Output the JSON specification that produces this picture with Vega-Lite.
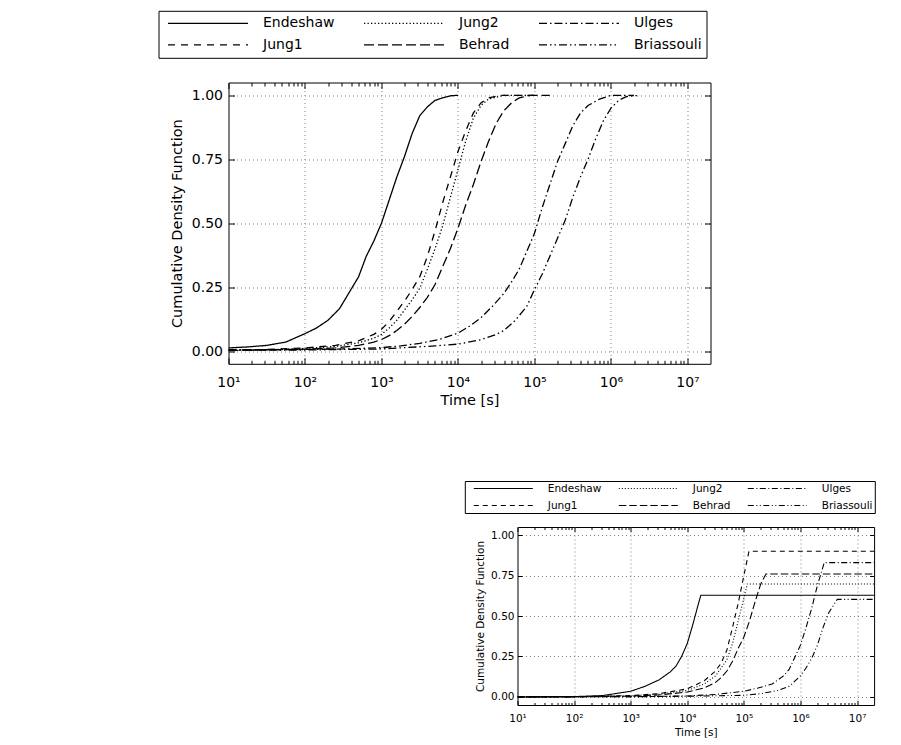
{
  "$schema": "https://vega.github.io/schema/vega-lite/v6.json",
  "background": "white",
  "padding": {"left": 157.5, "top": 9.5, "right": 5, "bottom": 5},
  "autosize": {"type": "pad"},
  "config": {
    "font": "DejaVu Sans",
    "view": {"stroke": "black", "strokeWidth": 1},
    "axis": {
      "labelColor": "black", "titleColor": "black", "tickColor": "black", "tickWidth": 1,
      "titleFontWeight": "normal", "domain": false, "labelFlush": false, "labelOverlap": false,
      "gridColor": "#808080", "gridDash": [1, 3], "gridWidth": 1, "gridOpacity": 1
    }
  },
  "datasets": {
    "top": [
      {"m":"Endeshaw","t":10,"v":0.012},{"m":"Endeshaw","t":17.78,"v":0.016},{"m":"Endeshaw","t":31.62,"v":0.022},{"m":"Endeshaw","t":56.23,"v":0.035},{"m":"Endeshaw","t":100,"v":0.068},{"m":"Endeshaw","t":141.3,"v":0.09},{"m":"Endeshaw","t":199.5,"v":0.12},{"m":"Endeshaw","t":281.8,"v":0.165},{"m":"Endeshaw","t":398.1,"v":0.24},{"m":"Endeshaw","t":501.2,"v":0.29},{"m":"Endeshaw","t":631,"v":0.37},{"m":"Endeshaw","t":794.3,"v":0.43},{"m":"Endeshaw","t":1000,"v":0.5},{"m":"Endeshaw","t":1259,"v":0.59},{"m":"Endeshaw","t":1585,"v":0.68},{"m":"Endeshaw","t":1995,"v":0.76},{"m":"Endeshaw","t":2512,"v":0.85},{"m":"Endeshaw","t":3162,"v":0.92},{"m":"Endeshaw","t":3981,"v":0.955},{"m":"Endeshaw","t":5012,"v":0.98},{"m":"Endeshaw","t":6310,"v":0.99},{"m":"Endeshaw","t":7943,"v":0.998},{"m":"Endeshaw","t":10000,"v":1.0},
      {"m":"Jung1","t":10,"v":0.004},{"m":"Jung1","t":31.62,"v":0.006},{"m":"Jung1","t":100,"v":0.012},{"m":"Jung1","t":251.2,"v":0.022},{"m":"Jung1","t":501.2,"v":0.04},{"m":"Jung1","t":794.3,"v":0.065},{"m":"Jung1","t":1000,"v":0.085},{"m":"Jung1","t":1259,"v":0.115},{"m":"Jung1","t":1585,"v":0.155},{"m":"Jung1","t":1995,"v":0.195},{"m":"Jung1","t":2512,"v":0.24},{"m":"Jung1","t":3162,"v":0.29},{"m":"Jung1","t":3981,"v":0.37},{"m":"Jung1","t":5012,"v":0.47},{"m":"Jung1","t":6310,"v":0.58},{"m":"Jung1","t":7943,"v":0.68},{"m":"Jung1","t":10000,"v":0.78},{"m":"Jung1","t":12589,"v":0.86},{"m":"Jung1","t":15849,"v":0.93},{"m":"Jung1","t":19953,"v":0.97},{"m":"Jung1","t":25119,"v":0.99},{"m":"Jung1","t":35481,"v":1.0},{"m":"Jung1","t":100000,"v":1.0},
      {"m":"Jung2","t":10,"v":0.003},{"m":"Jung2","t":31.62,"v":0.005},{"m":"Jung2","t":100,"v":0.01},{"m":"Jung2","t":251.2,"v":0.018},{"m":"Jung2","t":501.2,"v":0.032},{"m":"Jung2","t":794.3,"v":0.05},{"m":"Jung2","t":1000,"v":0.065},{"m":"Jung2","t":1259,"v":0.09},{"m":"Jung2","t":1585,"v":0.12},{"m":"Jung2","t":1995,"v":0.16},{"m":"Jung2","t":2512,"v":0.2},{"m":"Jung2","t":3162,"v":0.245},{"m":"Jung2","t":3981,"v":0.32},{"m":"Jung2","t":5012,"v":0.4},{"m":"Jung2","t":6310,"v":0.49},{"m":"Jung2","t":7943,"v":0.6},{"m":"Jung2","t":10000,"v":0.71},{"m":"Jung2","t":12589,"v":0.82},{"m":"Jung2","t":15849,"v":0.91},{"m":"Jung2","t":19953,"v":0.96},{"m":"Jung2","t":25119,"v":0.985},{"m":"Jung2","t":39811,"v":1.0},{"m":"Jung2","t":100000,"v":1.0},
      {"m":"Behrad","t":10,"v":0.002},{"m":"Behrad","t":31.62,"v":0.004},{"m":"Behrad","t":100,"v":0.007},{"m":"Behrad","t":251.2,"v":0.012},{"m":"Behrad","t":501.2,"v":0.022},{"m":"Behrad","t":794.3,"v":0.035},{"m":"Behrad","t":1000,"v":0.045},{"m":"Behrad","t":1259,"v":0.06},{"m":"Behrad","t":1585,"v":0.08},{"m":"Behrad","t":1995,"v":0.105},{"m":"Behrad","t":2512,"v":0.135},{"m":"Behrad","t":3162,"v":0.17},{"m":"Behrad","t":3981,"v":0.21},{"m":"Behrad","t":5012,"v":0.26},{"m":"Behrad","t":6310,"v":0.33},{"m":"Behrad","t":7943,"v":0.4},{"m":"Behrad","t":10000,"v":0.48},{"m":"Behrad","t":12589,"v":0.57},{"m":"Behrad","t":15849,"v":0.65},{"m":"Behrad","t":19953,"v":0.74},{"m":"Behrad","t":25119,"v":0.82},{"m":"Behrad","t":31623,"v":0.89},{"m":"Behrad","t":39811,"v":0.94},{"m":"Behrad","t":50119,"v":0.97},{"m":"Behrad","t":63096,"v":0.99},{"m":"Behrad","t":89125,"v":1.0},{"m":"Behrad","t":158489,"v":1.0},
      {"m":"Ulges","t":10,"v":0.004},{"m":"Ulges","t":100,"v":0.006},{"m":"Ulges","t":316.2,"v":0.008},{"m":"Ulges","t":1000,"v":0.013},{"m":"Ulges","t":1778,"v":0.02},{"m":"Ulges","t":3162,"v":0.03},{"m":"Ulges","t":5623,"v":0.045},{"m":"Ulges","t":10000,"v":0.07},{"m":"Ulges","t":14125,"v":0.097},{"m":"Ulges","t":19953,"v":0.13},{"m":"Ulges","t":28184,"v":0.175},{"m":"Ulges","t":39811,"v":0.225},{"m":"Ulges","t":50119,"v":0.27},{"m":"Ulges","t":63096,"v":0.32},{"m":"Ulges","t":79433,"v":0.39},{"m":"Ulges","t":100000,"v":0.46},{"m":"Ulges","t":125893,"v":0.56},{"m":"Ulges","t":158489,"v":0.65},{"m":"Ulges","t":199526,"v":0.74},{"m":"Ulges","t":251189,"v":0.81},{"m":"Ulges","t":316228,"v":0.88},{"m":"Ulges","t":398107,"v":0.93},{"m":"Ulges","t":501187,"v":0.96},{"m":"Ulges","t":707946,"v":0.985},{"m":"Ulges","t":1000000,"v":1.0},{"m":"Ulges","t":1995262,"v":1.0},
      {"m":"Briassouli","t":10,"v":0.003},{"m":"Briassouli","t":100,"v":0.004},{"m":"Briassouli","t":1000,"v":0.008},{"m":"Briassouli","t":1995,"v":0.013},{"m":"Briassouli","t":5012,"v":0.02},{"m":"Briassouli","t":10000,"v":0.027},{"m":"Briassouli","t":19953,"v":0.044},{"m":"Briassouli","t":31623,"v":0.065},{"m":"Briassouli","t":39811,"v":0.08},{"m":"Briassouli","t":56234,"v":0.12},{"m":"Briassouli","t":79433,"v":0.175},{"m":"Briassouli","t":100000,"v":0.24},{"m":"Briassouli","t":125893,"v":0.3},{"m":"Briassouli","t":158489,"v":0.37},{"m":"Briassouli","t":199526,"v":0.44},{"m":"Briassouli","t":251189,"v":0.51},{"m":"Briassouli","t":316228,"v":0.6},{"m":"Briassouli","t":398107,"v":0.68},{"m":"Briassouli","t":501187,"v":0.75},{"m":"Briassouli","t":630957,"v":0.83},{"m":"Briassouli","t":794328,"v":0.9},{"m":"Briassouli","t":1000000,"v":0.95},{"m":"Briassouli","t":1258925,"v":0.98},{"m":"Briassouli","t":1584893,"v":0.995},{"m":"Briassouli","t":2398833,"v":1.0}
    ],
    "bottom": [
      {"m":"Endeshaw","t":10,"v":0},{"m":"Endeshaw","t":100,"v":0.002},{"m":"Endeshaw","t":316.2,"v":0.008},{"m":"Endeshaw","t":1000,"v":0.035},{"m":"Endeshaw","t":1778,"v":0.065},{"m":"Endeshaw","t":3162,"v":0.105},{"m":"Endeshaw","t":5012,"v":0.155},{"m":"Endeshaw","t":6310,"v":0.19},{"m":"Endeshaw","t":7943,"v":0.25},{"m":"Endeshaw","t":10000,"v":0.33},{"m":"Endeshaw","t":12589,"v":0.45},{"m":"Endeshaw","t":15849,"v":0.58},{"m":"Endeshaw","t":17378,"v":0.628},{"m":"Endeshaw","t":20000000,"v":0.628},
      {"m":"Jung1","t":10,"v":0},{"m":"Jung1","t":100,"v":0.001},{"m":"Jung1","t":1000,"v":0.008},{"m":"Jung1","t":3162,"v":0.02},{"m":"Jung1","t":10000,"v":0.05},{"m":"Jung1","t":19953,"v":0.1},{"m":"Jung1","t":31623,"v":0.16},{"m":"Jung1","t":39811,"v":0.21},{"m":"Jung1","t":50119,"v":0.29},{"m":"Jung1","t":63096,"v":0.43},{"m":"Jung1","t":79433,"v":0.58},{"m":"Jung1","t":100000,"v":0.75},{"m":"Jung1","t":123027,"v":0.9},{"m":"Jung1","t":20000000,"v":0.9},
      {"m":"Jung2","t":10,"v":0},{"m":"Jung2","t":100,"v":0.001},{"m":"Jung2","t":1000,"v":0.007},{"m":"Jung2","t":3162,"v":0.017},{"m":"Jung2","t":10000,"v":0.04},{"m":"Jung2","t":19953,"v":0.08},{"m":"Jung2","t":31623,"v":0.13},{"m":"Jung2","t":39811,"v":0.18},{"m":"Jung2","t":50119,"v":0.23},{"m":"Jung2","t":63096,"v":0.33},{"m":"Jung2","t":79433,"v":0.47},{"m":"Jung2","t":100000,"v":0.61},{"m":"Jung2","t":114815,"v":0.698},{"m":"Jung2","t":20000000,"v":0.698},
      {"m":"Behrad","t":10,"v":0},{"m":"Behrad","t":100,"v":0.001},{"m":"Behrad","t":1000,"v":0.005},{"m":"Behrad","t":3162,"v":0.012},{"m":"Behrad","t":10000,"v":0.03},{"m":"Behrad","t":19953,"v":0.055},{"m":"Behrad","t":31623,"v":0.09},{"m":"Behrad","t":39811,"v":0.12},{"m":"Behrad","t":50119,"v":0.16},{"m":"Behrad","t":63096,"v":0.22},{"m":"Behrad","t":79433,"v":0.3},{"m":"Behrad","t":100000,"v":0.37},{"m":"Behrad","t":125893,"v":0.47},{"m":"Behrad","t":158489,"v":0.59},{"m":"Behrad","t":199526,"v":0.7},{"m":"Behrad","t":245471,"v":0.76},{"m":"Behrad","t":20000000,"v":0.76},
      {"m":"Ulges","t":10,"v":0},{"m":"Ulges","t":1000,"v":0.001},{"m":"Ulges","t":10000,"v":0.006},{"m":"Ulges","t":31623,"v":0.015},{"m":"Ulges","t":100000,"v":0.035},{"m":"Ulges","t":177828,"v":0.055},{"m":"Ulges","t":316228,"v":0.08},{"m":"Ulges","t":501187,"v":0.13},{"m":"Ulges","t":630957,"v":0.17},{"m":"Ulges","t":794328,"v":0.245},{"m":"Ulges","t":1000000,"v":0.32},{"m":"Ulges","t":1258925,"v":0.43},{"m":"Ulges","t":1584893,"v":0.55},{"m":"Ulges","t":1995262,"v":0.69},{"m":"Ulges","t":2630268,"v":0.83},{"m":"Ulges","t":20000000,"v":0.83},
      {"m":"Briassouli","t":10,"v":0},{"m":"Briassouli","t":1000,"v":0.001},{"m":"Briassouli","t":10000,"v":0.004},{"m":"Briassouli","t":100000,"v":0.01},{"m":"Briassouli","t":199526,"v":0.02},{"m":"Briassouli","t":398107,"v":0.04},{"m":"Briassouli","t":630957,"v":0.065},{"m":"Briassouli","t":1000000,"v":0.13},{"m":"Briassouli","t":1258925,"v":0.18},{"m":"Briassouli","t":1584893,"v":0.24},{"m":"Briassouli","t":1995262,"v":0.32},{"m":"Briassouli","t":2511886,"v":0.43},{"m":"Briassouli","t":3162278,"v":0.52},{"m":"Briassouli","t":4466836,"v":0.603},{"m":"Briassouli","t":20000000,"v":0.603}
    ]
  },
  "spacing": 162.5,
  "bounds": "flush",
  "resolve": {"scale": {"strokeDash": "independent"}, "legend": {"strokeDash": "independent"}},
  "vconcat": [
    {
      "width": 482,
      "height": 281.3,
      "data": {"name": "top"},
      "resolve": {"axis": {"x": "independent", "y": "independent"}},
      "layer": [
        {
          "mark": {"type": "line", "color": "black", "strokeWidth": 1.3, "clip": true},
          "encoding": {
            "x": {"field": "t", "type": "quantitative",
              "scale": {"type": "log", "domain": [10, 20000000], "nice": false},
              "axis": {"orient": "bottom", "values": [10,100,1000,10000,100000,1000000,10000000],
                "labelExpr": "'10' + ['⁰','¹','²','³','⁴','⁵','⁶','⁷'][round(log(datum.value)/LN10)]",
                "tickSize": -6, "labelPadding": 18, "labelFontSize": 14, "grid": true,
                "title": "Time [s]", "titleFontSize": 14.5, "titlePadding": 4}},
            "y": {"field": "v", "type": "quantitative",
              "scale": {"domain": [-0.05, 1.05], "nice": false, "zero": false},
              "axis": {"orient": "left", "values": [0, 0.25, 0.5, 0.75, 1], "format": ".2f",
                "tickSize": -6, "labelPadding": 12, "labelFontSize": 14, "grid": true,
                "title": "Cumulative Density Function", "titleFontSize": 14.5, "titlePadding": 7}},
            "strokeDash": {"field": "m", "type": "nominal",
              "scale": {"domain": ["Endeshaw", "Jung1", "Jung2", "Behrad", "Ulges", "Briassouli"],
                "range": [[1, 0], [7, 6], [1.3, 2.2], [10, 4], [8, 3, 1.5, 3], [8, 3, 1.5, 3, 1.5, 3]]},
              "legend": {"title": null, "orient": "none", "legendX": -70, "legendY": -71.7, "columns": 3,
                "symbolType": "stroke", "symbolSize": 6400, "symbolStrokeWidth": 1.3, "symbolStrokeColor": "black",
                "clipHeight": 16, "rowPadding": 5.6, "columnPadding": 24, "labelOffset": 14, "symbolOffset": 4,
                "padding": 4.5, "labelFontSize": 14, "labelFont": "DejaVu Sans", "labelColor": "black",
                "strokeColor": "black", "fillColor": "white", "cornerRadius": 0, "labelLimit": 300}}
          }
        },
        {
          "data": {"values": []},
          "mark": {"type": "line"},
          "encoding": {
            "x": {"field": "t", "type": "quantitative", "scale": {"type": "log", "domain": [10, 20000000], "nice": false},
              "axis": {"orient": "top", "values": [10,100,1000,10000,100000,1000000,10000000], "labels": false, "grid": false, "tickSize": -6, "title": null}},
            "y": {"field": "v", "type": "quantitative", "scale": {"domain": [-0.05, 1.05], "nice": false, "zero": false},
              "axis": {"orient": "right", "values": [0, 0.25, 0.5, 0.75, 1], "labels": false, "grid": false, "tickSize": -6, "title": null}}
          }
        },
        {
          "data": {"values": []},
          "mark": {"type": "line"},
          "encoding": {
            "x": {"field": "t", "type": "quantitative", "scale": {"type": "log", "domain": [10, 20000000], "nice": false},
              "axis": {"orient": "bottom", "values": [20,30,40,50,60,70,80,90,200,300,400,500,600,700,800,900,2000,3000,4000,5000,6000,7000,8000,9000,20000,30000,40000,50000,60000,70000,80000,90000,200000,300000,400000,500000,600000,700000,800000,900000,2000000,3000000,4000000,5000000,6000000,7000000,8000000,9000000],
                "labels": false, "grid": false, "tickSize": -3.5, "title": null}},
            "y": {"field": "v", "type": "quantitative", "scale": {"domain": [-0.05, 1.05], "nice": false, "zero": false}, "axis": null}
          }
        },
        {
          "data": {"values": []},
          "mark": {"type": "line"},
          "encoding": {
            "x": {"field": "t", "type": "quantitative", "scale": {"type": "log", "domain": [10, 20000000], "nice": false},
              "axis": {"orient": "top", "values": [20,30,40,50,60,70,80,90,200,300,400,500,600,700,800,900,2000,3000,4000,5000,6000,7000,8000,9000,20000,30000,40000,50000,60000,70000,80000,90000,200000,300000,400000,500000,600000,700000,800000,900000,2000000,3000000,4000000,5000000,6000000,7000000,8000000,9000000],
                "labels": false, "grid": false, "tickSize": -3.5, "title": null}},
            "y": {"field": "v", "type": "quantitative", "scale": {"domain": [-0.05, 1.05], "nice": false, "zero": false}, "axis": null}
          }
        }
      ]
    },
    {
      "spacing": 10,
      "bounds": "flush",
      "resolve": {"scale": {"strokeDash": "independent"}, "legend": {"strokeDash": "independent"}},
      "hconcat": [
        {
          "width": 278.7,
          "height": 178,
          "view": {"stroke": null},
          "data": {"values": []},
          "mark": "point"
        },
        {
          "width": 356.6,
          "height": 178,
          "data": {"name": "bottom"},
          "resolve": {"axis": {"x": "independent", "y": "independent"}},
          "layer": [
            {
              "mark": {"type": "line", "color": "black", "strokeWidth": 1.1, "clip": true},
              "encoding": {
                "x": {"field": "t", "type": "quantitative",
                  "scale": {"type": "log", "domain": [10, 20000000], "nice": false},
                  "axis": {"orient": "bottom", "values": [10,100,1000,10000,100000,1000000,10000000],
                    "labelExpr": "'10' + ['⁰','¹','²','³','⁴','⁵','⁶','⁷'][round(log(datum.value)/LN10)]",
                    "tickSize": -4.5, "labelPadding": 13, "labelFontSize": 10.5, "grid": true,
                    "title": "Time [s]", "titleFontSize": 10.5, "titlePadding": 3}},
                "y": {"field": "v", "type": "quantitative",
                  "scale": {"domain": [-0.05, 1.05], "nice": false, "zero": false},
                  "axis": {"orient": "left", "values": [0, 0.25, 0.5, 0.75, 1], "format": ".2f",
                    "tickSize": -4.5, "labelPadding": 8, "labelFontSize": 10.5, "grid": true,
                    "title": "Cumulative Density Function", "titleFontSize": 10.5, "titlePadding": 5.5}},
                "strokeDash": {"field": "m", "type": "nominal",
                  "scale": {"domain": ["Endeshaw", "Jung1", "Jung2", "Behrad", "Ulges", "Briassouli"],
                    "range": [[1, 0], [5, 4], [1, 2], [7.5, 3], [6, 2.5, 1, 2.5], [6, 2.5, 1, 2.5, 1, 2.5]]},
                  "legend": {"title": null, "orient": "none", "legendX": -52.7, "legendY": -46, "columns": 3,
                    "symbolType": "stroke", "symbolSize": 3481, "symbolStrokeWidth": 1.1, "symbolStrokeColor": "black",
                    "clipHeight": 12, "rowPadding": 5, "columnPadding": 9, "labelOffset": 14, "symbolOffset": 6.5,
                    "padding": 1.5, "labelFontSize": 10.5, "labelFont": "DejaVu Sans", "labelColor": "black",
                    "strokeColor": "black", "fillColor": "white", "cornerRadius": 0, "labelLimit": 300}}
              }
            },
            {
              "data": {"values": []},
              "mark": {"type": "line"},
              "encoding": {
                "x": {"field": "t", "type": "quantitative", "scale": {"type": "log", "domain": [10, 20000000], "nice": false},
                  "axis": {"orient": "top", "values": [10,100,1000,10000,100000,1000000,10000000], "labels": false, "grid": false, "tickSize": -4.5, "title": null}},
                "y": {"field": "v", "type": "quantitative", "scale": {"domain": [-0.05, 1.05], "nice": false, "zero": false},
                  "axis": {"orient": "right", "values": [0, 0.25, 0.5, 0.75, 1], "labels": false, "grid": false, "tickSize": -4.5, "title": null}}
              }
            },
            {
              "data": {"values": []},
              "mark": {"type": "line"},
              "encoding": {
                "x": {"field": "t", "type": "quantitative", "scale": {"type": "log", "domain": [10, 20000000], "nice": false},
                  "axis": {"orient": "bottom", "values": [20,30,40,50,60,70,80,90,200,300,400,500,600,700,800,900,2000,3000,4000,5000,6000,7000,8000,9000,20000,30000,40000,50000,60000,70000,80000,90000,200000,300000,400000,500000,600000,700000,800000,900000,2000000,3000000,4000000,5000000,6000000,7000000,8000000,9000000],
                    "labels": false, "grid": false, "tickSize": -2.5, "title": null}},
                "y": {"field": "v", "type": "quantitative", "scale": {"domain": [-0.05, 1.05], "nice": false, "zero": false}, "axis": null}
              }
            },
            {
              "data": {"values": []},
              "mark": {"type": "line"},
              "encoding": {
                "x": {"field": "t", "type": "quantitative", "scale": {"type": "log", "domain": [10, 20000000], "nice": false},
                  "axis": {"orient": "top", "values": [20,30,40,50,60,70,80,90,200,300,400,500,600,700,800,900,2000,3000,4000,5000,6000,7000,8000,9000,20000,30000,40000,50000,60000,70000,80000,90000,200000,300000,400000,500000,600000,700000,800000,900000,2000000,3000000,4000000,5000000,6000000,7000000,8000000,9000000],
                    "labels": false, "grid": false, "tickSize": -2.5, "title": null}},
                "y": {"field": "v", "type": "quantitative", "scale": {"domain": [-0.05, 1.05], "nice": false, "zero": false}, "axis": null}
              }
            }
          ]
        }
      ]
    }
  ]
}
